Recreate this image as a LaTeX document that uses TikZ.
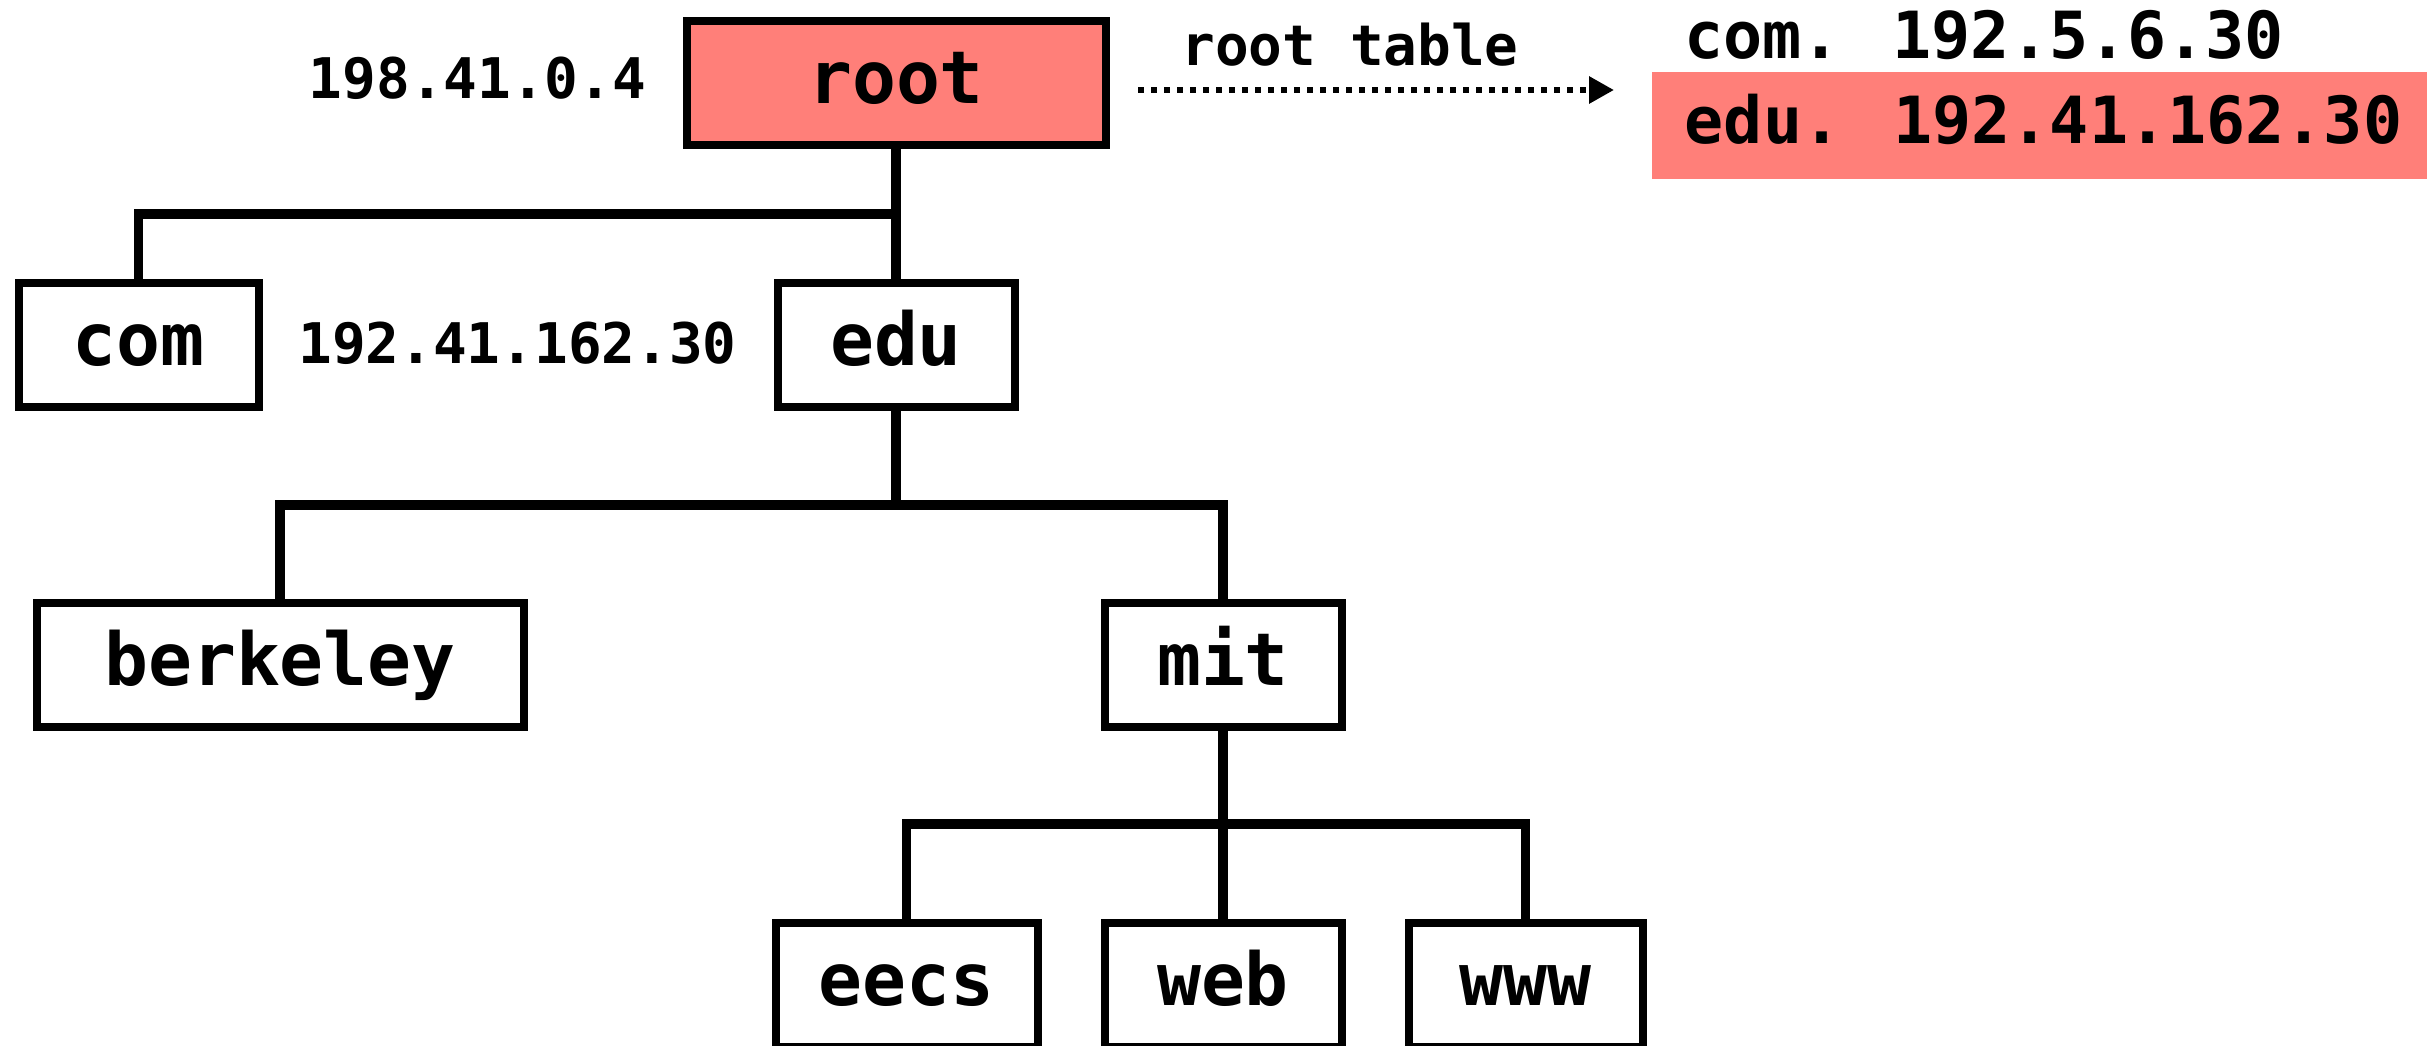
\documentclass[tikz,border=0pt]{standalone}
\usepackage{fontspec}
\newfontfamily\monofont{DejaVu Sans Mono}
\usetikzlibrary{arrows.meta}
\definecolor{hilite}{RGB}{255,127,121}
\tikzset{
  namebox/.style={draw=black, line width=8pt, fill=white, inner sep=0pt,
    minimum height=124pt, text height=60pt, text depth=20pt,
    font=\monofont\bfseries\fontsize{73}{78}\selectfont},
  addr/.style={inner sep=0pt, anchor=base, font=\monofont\bfseries\fontsize{56}{60}\selectfont},
  tablerow/.style={inner sep=0pt, anchor=base, font=\monofont\bfseries\fontsize{65}{70}\selectfont},
  conn/.style={line width=9.5pt, line join=miter},
  pointer/.style={line width=6pt, dash pattern=on 6pt off 7pt,
    -{Triangle[length=25pt, width=26pt]}}
}
\begin{document}
\begin{tikzpicture}[x=1pt, y=-1pt]
\useasboundingbox (0,0) rectangle (2427,1045);
\fill[white] (0,0) rectangle (2427,1045);

% zone nodes
\node[namebox, fill=hilite, minimum width=419pt] (root) at (896,83) {root};
\node[namebox, minimum width=240pt] (com) at (138.5,345) {com};
\node[namebox, minimum width=237pt] (edu) at (896,345) {edu};
\node[namebox, minimum width=487pt] (berkeley) at (280,665) {berkeley};
\node[namebox, minimum width=237pt] (mit) at (1223,665) {mit};
\node[namebox, minimum width=262pt] (eecs) at (906.5,985) {eecs};
\node[namebox, minimum width=237pt] (web) at (1223,985) {web};
\node[namebox, minimum width=234pt] (www) at (1525.5,985) {www};

% tree junctions
\coordinate (j1) at (896,214);
\coordinate (j2) at (896,505);
\coordinate (j3) at (1223,824);

% tree edges
\draw[conn] (root.south) -- (edu.north);
\draw[conn] (com.north) |- (j1);
\draw[conn] (edu.south) -- (j2);
\draw[conn] (berkeley.north) |- (j2) -| (mit.north);
\draw[conn] (mit.south) -- (web.north);
\draw[conn] (eecs.north) |- (j3) -| (www.north);

% server addresses
\node[addr] (rootip) at (477.5,98) {198.41.0.4};
\node[addr] (eduip) at (517.5,363) {192.41.162.30};

% root table
\fill[hilite] (1652,72) rectangle (2440,179);
\node[addr] (tbllabel) at (1350,65) {root table};
\node[tablerow] (rowcom) at (1984,58) {com. 192.5.6.30};
\node[tablerow] (rowedu) at (2043.5,143) {edu. 192.41.162.30};

\coordinate (ptrstart) at (1138,90);
\coordinate (ptrend) at (1614,90);
\draw[pointer] (ptrstart) -- (ptrend);
\end{tikzpicture}
\end{document}
